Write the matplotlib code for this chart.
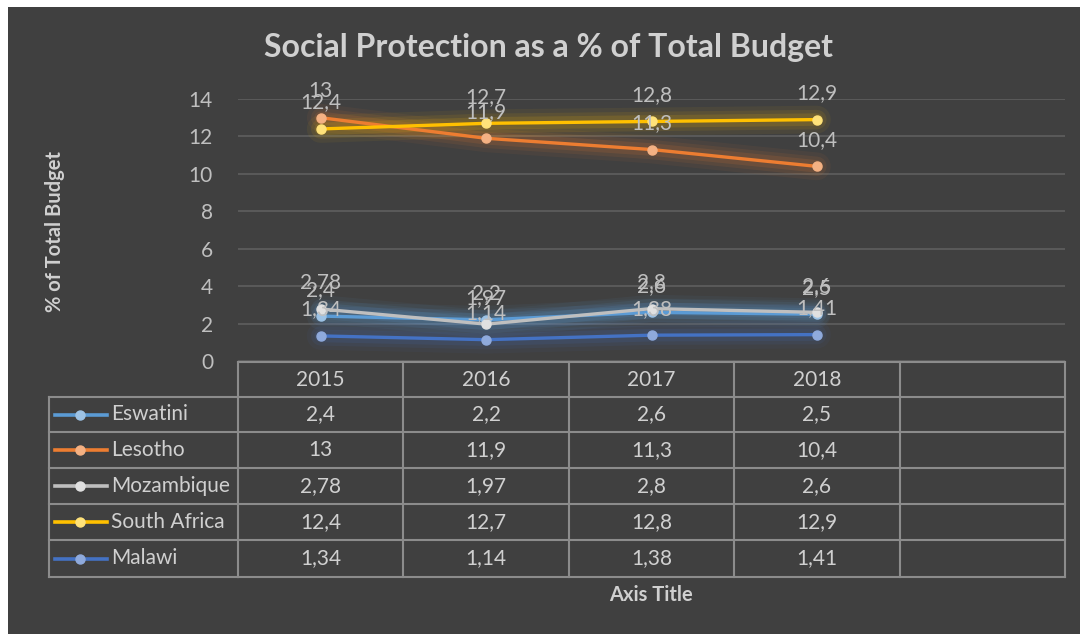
import matplotlib.pyplot as plt
from matplotlib import transforms
from matplotlib.patches import Rectangle
from matplotlib.lines import Line2D

plt.rcParams['font.family'] = ['Lato', 'DejaVu Sans']

W, H = 1080, 634

years = ['2015', '2016', '2017', '2018']
countries = ['Eswatini', 'Lesotho', 'Mozambique', 'South Africa', 'Malawi']
eswatini = [2.4, 2.2, 2.6, 2.5]
lesotho = [13, 11.9, 11.3, 10.4]
mozambique = [2.78, 1.97, 2.8, 2.6]
south_africa = [12.4, 12.7, 12.8, 12.9]
malawi = [1.34, 1.14, 1.38, 1.41]
series = [eswatini, lesotho, mozambique, south_africa, malawi]

line_colors = ['#5b9bd5', '#ed7d31', '#bfbfbf', '#ffc000', '#4472c4']
marker_colors = ['#9dc3e6', '#f4b183', '#e0e0e0', '#ffe27a', '#8faadc']
glow_colors = ['#5b9bd5', '#ed7d31', '#5b9bd5', '#ffc000', '#4472c4']

bg = '#404040'
text_col = '#d0d0d0'
label_col = '#bfbfbf'
grid_col = '#5c5c5c'
table_col = '#8c8c8c'


def fx(px):
    return px / W


def fy(py):
    # pixel rows are counted from the top
    return 1 - py / H


def fmt(v):
    return ('%g' % v).replace('.', ',')


fig = plt.figure(figsize=(W / 100, H / 100), dpi=100)
fig.patch.set_facecolor('white')
fig.add_artist(Rectangle((fx(8), 0), 1 - fx(8), fy(7), transform=fig.transFigure,
                         facecolor=bg, edgecolor='none', zorder=-10))

ax = fig.add_axes([fx(238), fy(361), fx(1065 - 238), fy(99) - fy(361)])
ax.set_facecolor('none')
ax.set_xlim(-0.5, 4.5)
ax.set_ylim(0, 14)
ax.set_yticks(range(0, 15, 2))
ax.set_xticks([])
for s in ax.spines.values():
    s.set_visible(False)
ax.tick_params(axis='y', length=0, pad=18, labelsize=15, labelcolor=label_col)
ax.grid(axis='y', color=grid_col, lw=1.3)
ax.set_axisbelow(True)

xs = list(range(len(years)))
for vals, lc, mc, gc in zip(series, line_colors, marker_colors, glow_colors):
    # soft glow under each line
    for w, a in [(20, 0.06), (14, 0.09), (9, 0.13)]:
        ax.plot(xs, vals, color=gc, lw=w, alpha=a, solid_capstyle='round', zorder=2)
    ax.plot(xs, vals, color=lc, lw=2.4, marker='o', ms=6.5, mfc=mc, mec=mc, zorder=3)

for vals in series:
    for x, v in zip(xs, vals):
        ax.annotate(fmt(v), (x, v), xytext=(0, 19), textcoords='offset points',
                    ha='center', va='center', fontsize=15, color=label_col, zorder=4)

fig.text(fx(549), fy(48), 'Social Protection as a % of Total Budget', ha='center',
         va='center', fontsize=23, fontweight='bold', color=text_col)

# data table below the plot
blend = transforms.blended_transform_factory(ax.transData, fig.transFigure)
row_edges = [362, 397, 432, 468, 504, 540, 577]
col_edges = [-0.5, 0.5, 1.5, 2.5, 3.5, 4.5]
lkw = dict(color=table_col, lw=1.5, clip_on=False)

for ce in col_edges:
    fig.add_artist(Line2D([ce, ce], [fy(row_edges[0]), fy(row_edges[-1])], transform=blend, **lkw))
for i, re in enumerate(row_edges):
    fig.add_artist(Line2D([-0.5, 4.5], [fy(re), fy(re)], transform=blend, **lkw))
    if i > 0:
        fig.add_artist(Line2D([fx(49), fx(238)], [fy(re), fy(re)], transform=fig.transFigure, **lkw))
fig.add_artist(Line2D([fx(49), fx(49)], [fy(row_edges[1]), fy(row_edges[-1])],
                      transform=fig.transFigure, **lkw))

hy = fy((row_edges[0] + row_edges[1]) / 2)
for x, yr in zip(xs, years):
    fig.text(x, hy, yr, transform=blend, ha='center', va='center', fontsize=15, color=text_col)

for r, (name, vals, lc, mc) in enumerate(zip(countries, series, line_colors, marker_colors)):
    cy = fy((row_edges[r + 1] + row_edges[r + 2]) / 2)
    fig.add_artist(Line2D([fx(55), fx(107)], [cy, cy], transform=fig.transFigure,
                          color=lc, lw=2.6))
    fig.add_artist(Line2D([fx(80)], [cy], transform=fig.transFigure, marker='o',
                          ms=6.5, mfc=mc, mec=mc, lw=0))
    fig.text(fx(111), cy, name, ha='left', va='center', fontsize=15, color=text_col)
    for x, v in zip(xs, vals):
        fig.text(x, cy, fmt(v), transform=blend, ha='center', va='center',
                 fontsize=15, color=text_col)

fig.text(fx(651), fy(595), 'Axis Title', ha='center', va='center', fontsize=14.5,
         fontweight='bold', color=text_col)
fig.text(fx(55), fy(231), '% of Total Budget', ha='center', va='center', rotation=90,
         fontsize=14.5, fontweight='bold', color=text_col)

fig.savefig('out.png', dpi=100, facecolor=fig.get_facecolor())
